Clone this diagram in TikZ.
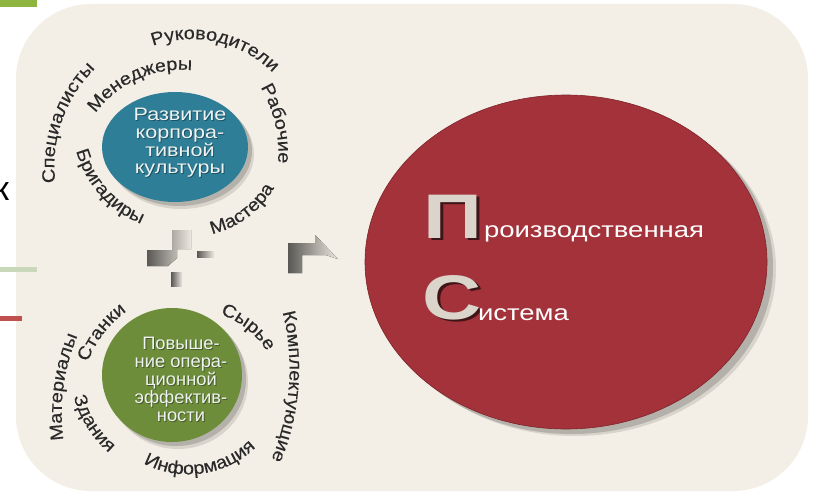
\documentclass[tikz,border=0pt]{standalone}
\usepackage{fontspec}
\setmainfont{Liberation Sans}
\newfontfamily\ringfont{Liberation Sans}[FakeStretch=1.1, FakeBold=0.25]
\newfontfamily\bluefont{Liberation Sans}[FakeStretch=1.2]
\newfontfamily\greenfont{Liberation Sans}[FakeStretch=1.02]
\newfontfamily\redfont{Liberation Sans}[FakeStretch=1.25]
\newfontfamily\capfont{Liberation Sans}[FakeStretch=1.3]
\usetikzlibrary{decorations.text,shapes.geometric}

\definecolor{pagebg}{HTML}{F3EFE6}
\definecolor{ringtext}{HTML}{2A2A2A}
\definecolor{culture}{HTML}{2E7E98}
\definecolor{effic}{HTML}{6D8D3B}
\definecolor{prodsys}{HTML}{A3323A}
\definecolor{prodedge}{HTML}{7E2429}
\definecolor{softshadow}{HTML}{B4B1AB}
\definecolor{paleshadow}{HTML}{D8D4CC}
\definecolor{ctext}{HTML}{EEF2F0}
\definecolor{capface}{HTML}{DAD4CA}
\definecolor{capshadow}{HTML}{3E1416}
\definecolor{carvedark}{HTML}{5A5854}
\definecolor{carvelight}{HTML}{ECE8E0}
\definecolor{bargreen}{HTML}{8DB53F}
\definecolor{barsage}{HTML}{C9D8BB}
\definecolor{barred}{HTML}{C0504D}

\newcommand\ringfmt{\ringfont\fontsize{18}{18}\selectfont}
\newcommand\capfmt{\capfont\bfseries\fontsize{63}{63}\selectfont}
\newcommand\redfmt{\redfont\fontsize{22}{22}\selectfont}
% text set on a circular arc: centre x, centre y, radius, start angle, end angle, text
\newcommand\arclabel[6]{%
  \path[ringlabel={#6}] (#1,#2) ++(#4:#3) arc[start angle=#4, end angle=#5, radius=#3];}

\tikzset{
  ringlabel/.style={decorate, decoration={text along path, text align=center,
      text color=ringtext, text={|\ringfmt|#1}}},
  carve/.style={left color=carvedark, right color=carvelight, draw=none},
  bubble/.style={ellipse, inner sep=0pt, draw=none},
  plain/.style={inner sep=0pt, outer sep=0pt},
}

\begin{document}
\begin{tikzpicture}[x=1pt, y=-1pt]
\useasboundingbox (0,0) rectangle (813,495);
\fill[white] (0,0) rectangle (813,495);

% panel
\fill[pagebg, rounded corners=75pt] (16,4) rectangle (808,491);

% side bars and the clipped letter at the left edge
\fill[bargreen] (0,0) rectangle (37,7);
\fill[barsage] (0,267) rectangle (37,272);
\fill[barred] (0,316) rectangle (22,321);
\node[plain, anchor=base east, font=\fontsize{34}{34}\selectfont] (edgek) at (9,200) {к};

% large red disc
\fill[paleshadow] (575,269) ellipse[x radius=201, y radius=167];
\fill[softshadow] (572,267) ellipse[x radius=201, y radius=167];
\node[bubble, fill=prodsys, draw=prodedge, line width=0.6pt,
      minimum width=402pt, minimum height=334pt] (system) at (566,262) {};

% big initials with drop shadows
\node[plain, anchor=base west, text=capshadow] (pshade) at (426,240.5) {\capfmt П};
\node[plain, anchor=base west, text=capface] (capP) at (423,238) {\capfmt П};
\node[plain, anchor=base west, text=white] (word1) at (484,237) {\redfmt роизводственная};
\node[plain, anchor=base west, text=capshadow] (sshade) at (425.5,321.5) {\capfmt С};
\node[plain, anchor=base west, text=capface] (capS) at (422.5,319) {\capfmt С};
\node[plain, anchor=base west, text=white] (word2) at (478,320) {\redfmt истема};

% blue disc
\fill[paleshadow] (181,154) ellipse[x radius=73, y radius=55];
\fill[softshadow] (179,151) ellipse[x radius=73, y radius=55];
\node[bubble, fill=culture, minimum width=146pt, minimum height=110pt] (culture) at (175,147) {};
\node[plain, align=center, text=black, opacity=0.35,
      font=\bluefont\fontsize{18}{17.6}\selectfont] (cultureshade) at (181,144)
      {Развитие\\корпора-\\тивной\\культуры};
\node[plain, align=center, text=ctext,
      font=\bluefont\fontsize{18}{17.6}\selectfont] (culturetext) at (180,143)
      {Развитие\\корпора-\\тивной\\культуры};

% green disc
\fill[paleshadow] (178,382) ellipse[x radius=70, y radius=67];
\fill[softshadow] (176,379) ellipse[x radius=70, y radius=67];
\node[bubble, fill=effic, minimum width=140pt, minimum height=134pt] (effic) at (172,375) {};
\node[plain, align=center, text=black, opacity=0.35,
      font=\greenfont\fontsize{18}{18}\selectfont] (efficshade) at (182,380.5)
      {Повыше-\\ние опера-\\ционной\\эффектив-\\ности};
\node[plain, align=center, text=ctext,
      font=\greenfont\fontsize{18}{18}\selectfont] (effictext) at (181,379.5)
      {Повыше-\\ние опера-\\ционной\\эффектив-\\ности};

% labels around the blue disc
\arclabel{191.65}{154.05}{114.9}{-127.4}{-27.4}{Руководители}
\arclabel{189.9}{165.6}{135.5}{159.25}{239.25}{Специалисты}
\arclabel{146.4}{153.3}{131.9}{-42.9}{17.1}{Рабочие}
\arclabel{181.3}{176.2}{106.4}{-159}{-69}{Менеджеры}
\arclabel{180.7}{123.1}{108.1}{183.3}{93.3}{Бригадиры}
\arclabel{190}{139.5}{97}{93.4}{13.4}{Мастера}

% labels around the green disc
\arclabel{190}{400}{109}{-177.6}{-107.6}{Станки}
\arclabel{259.7}{413.5}{198}{157.7}{217.7}{Материалы}
\arclabel{185.8}{365.3}{116.5}{177.8}{117.8}{Здания}
\arclabel{188.5}{377.5}{96.9}{131.9}{31.9}{Информация}
\arclabel{190}{400}{91}{-86.4}{-16.4}{Сырье}
\arclabel{55.25}{369}{234.3}{-23.65}{32.35}{Комплектующие}

% carved plus sign
\fill[carve] (172,230) -- (191,230) -- (191,249) -- (177,249) -- (177,258)
  -- (168,266) -- (147,266) -- (147,250) -- (172,250) -- cycle;
\fill[carve] (197,251) rectangle (214,257);
\fill[carve] (171,272) rectangle (182,286);

% carved arrow
\fill[carve] (288,243) -- (315,243) -- (315,235) -- (338,259) -- (326,255)
  -- (302,255) -- (302,273) -- (288,273) -- cycle;
\end{tikzpicture}
\end{document}
